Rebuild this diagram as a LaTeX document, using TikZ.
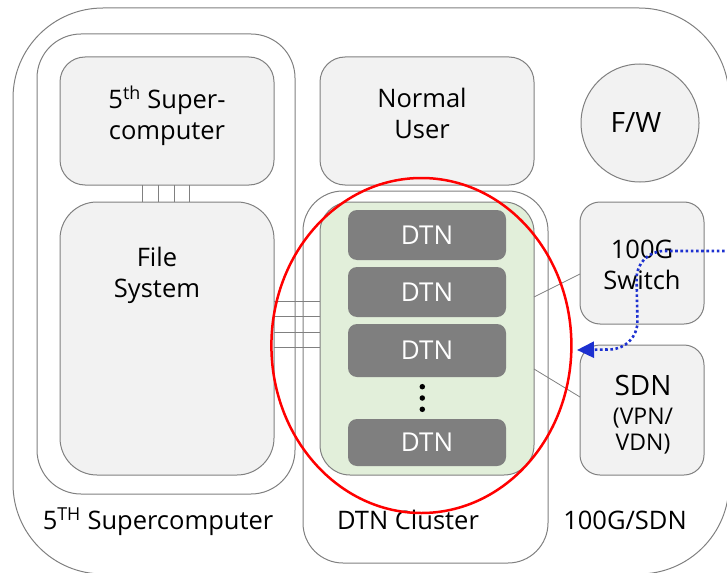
\documentclass[tikz,border=0pt]{standalone}
\usepackage{fontspec}
\setmainfont{Open Sans}
\usetikzlibrary{arrows.meta,shapes.geometric}
\definecolor{edgegray}{RGB}{128,128,128}
\definecolor{boxfill}{RGB}{242,242,242}
\definecolor{dtngray}{RGB}{127,127,127}
\definecolor{clustergreen}{RGB}{226,239,218}
\definecolor{pathblue}{RGB}{28,48,208}
\definecolor{ringred}{RGB}{255,0,0}
\begin{document}
\begin{tikzpicture}[x=1pt,y=-1pt,
  grpframe/.style={draw=edgegray, line width=1pt, rounded corners=#1, inner sep=0pt, outer sep=0pt},
  boxpanel/.style={grpframe=#1, fill=boxfill},
  dtnbox/.style={fill=dtngray, text=white, rounded corners=9pt, minimum width=158pt,
    inner sep=0pt, outer sep=0pt, font=\fontsize{26}{30}\selectfont},
  txt/.style={align=center, inner sep=0pt, outer sep=0pt, font=\fontsize{25.5}{31}\selectfont},
  bigtxt/.style={txt, font=\fontsize{28}{32}\selectfont},
  smalltxt/.style={txt, font=\fontsize{23}{26}\selectfont},
  wire/.style={draw=edgegray, line width=0.8pt},
  vdot/.style={circle, fill=black, minimum size=5.5pt, inner sep=0pt},
  flow/.style={draw=pathblue, line width=2.6pt, dash pattern=on 2.6pt off 2.6pt,
    rounded corners=28pt, -{Triangle[length=17pt,width=16pt]}}
]
\useasboundingbox (0,0) rectangle (727,572);
\clip (0,0) rectangle (727,572);

% enclosing site outline and the three groups
\node[grpframe=90pt, minimum width=716pt, minimum height=566pt] (site) at (371,291) {};
\node[grpframe=44pt, minimum width=258pt, minimum height=460pt] (scgroup) at (166,264) {};
\node[grpframe=40pt, minimum width=245pt, minimum height=372pt] (dtngroup) at (425.5,377) {};

% supercomputer side
\node[boxpanel=25pt, minimum width=214pt, minimum height=128pt] (sc) at (167,121) {};
\node[boxpanel=37pt, minimum width=214pt, minimum height=273pt] (fs) at (167,338.5) {};
\node[txt] (sctext) at (167,116) {5\textsuperscript{th} Super-\\computer};
\node[txt] (fstext) at (157,275) {File\\System};

% normal user and firewall
\node[boxpanel=25pt, minimum width=214pt, minimum height=128pt] (nu) at (427,121) {};
\node[txt] (nutext) at (422,113) {Normal\\User};
\node[circle, draw=edgegray, fill=boxfill, line width=1pt, minimum size=118pt, inner sep=0pt] (fw) at (640,123) {};
\node[bigtxt, anchor=base] (fwtext) at (636,133) {F/W};

% DTN cluster
\node[grpframe=30pt, fill=clustergreen, minimum width=214pt, minimum height=273pt] (green) at (427,338.5) {};
\node[dtnbox, minimum height=50pt] (dtn1) at (427,235) {DTN};
\node[dtnbox, minimum height=50pt] (dtn2) at (427,292) {DTN};
\node[dtnbox, minimum height=53pt] (dtn3) at (427,350.5) {DTN};
\node[dtnbox, minimum height=47pt] (dtn4) at (427,442.5) {DTN};
\node[vdot] (dot1) at (422.3,386.7) {};
\node[vdot] (dot2) at (422.3,398) {};
\node[vdot] (dot3) at (422.3,409.3) {};

% 100G switch and SDN
\node[boxpanel=20pt, minimum width=124pt, minimum height=122pt] (sw) at (642,263) {};
\node[txt] (swtext) at (642,265) {100G\\Switch};
\node[boxpanel=20pt, minimum width=124pt, minimum height=130pt] (sdn) at (642,410) {};
\node[bigtxt, anchor=base] (sdntext) at (643,395) {SDN};
\node[smalltxt] (vpntext) at (643,431) {(VPN/\\VDN)};

% group captions
\node[txt, anchor=base] (sccap) at (158,529.5) {5\textsuperscript{TH} Supercomputer};
\node[txt, anchor=base] (dtncap) at (408,529.5) {DTN Cluster};
\node[txt, anchor=base] (netcap) at (625,529.5) {100G/SDN};

% links
\foreach \dx in {-24.3,-8.7,7,22.3}
  \draw[wire] ([xshift=\dx pt]sc.south) -- ([xshift=\dx pt]fs.north);
\foreach \dy in {37.5,21.8,6.5,-9.2}
  \draw[wire] ([yshift=\dy pt]fs.east) -- ([yshift=\dy pt]fs.east -| green.west);
\draw[wire] ([yshift=41.5pt]green.east) -- ([yshift=-11pt]sw.west);
\draw[wire] ([yshift=-30.5pt]green.east) -- ([yshift=13pt]sdn.west);

% highlight ring round the cluster
\node[draw=ringred, line width=2.5pt, ellipse, minimum width=300pt, minimum height=335pt, inner sep=0pt] (ring) at (421.4,345.5) {};

% data path entering through the switch
\coordinate (inlet) at (735,251);
\coordinate (bendA) at (636,251);
\coordinate (bendB) at (638,349);
\coordinate (outlet) at (577,350);
\draw[flow] (inlet) -- (bendA) -- (bendB) -- (outlet);
\end{tikzpicture}
\end{document}
